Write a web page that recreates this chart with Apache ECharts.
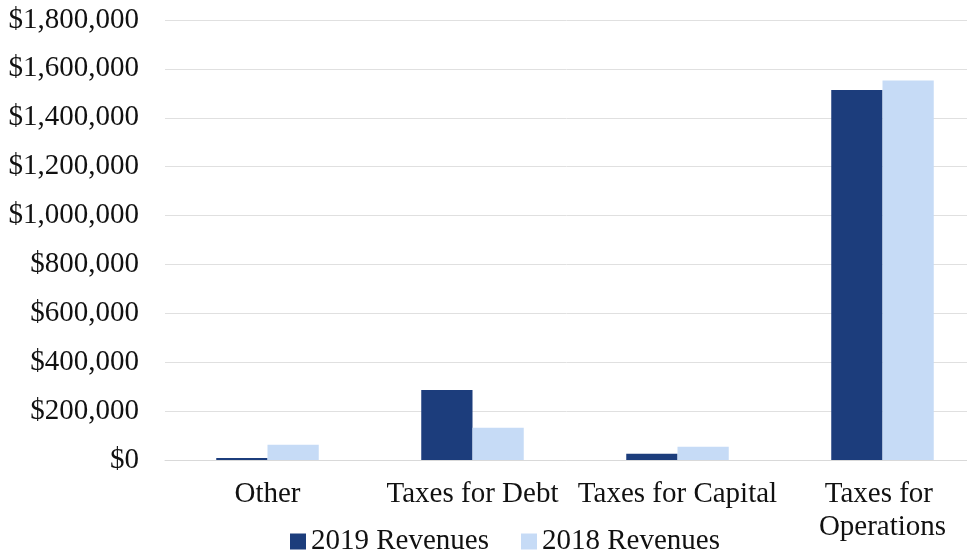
<!DOCTYPE html>
<html>
<head>
<meta charset="utf-8">
<script src="https://cdn.jsdelivr.net/npm/echarts@6/dist/echarts.min.js"></script>
<style>
  html, body { margin: 0; padding: 0; background: #fff; }
  #chart { width: 967px; height: 550px; }
</style>
</head>
<body>
<div id="chart"></div>
<script>
const categories = ['Other', 'Taxes for Debt', 'Taxes for Capital', 'Taxes for Operations']
const revenues2019 = [8000, 286000, 26000, 1514000]
const revenues2018 = [62000, 132000, 54000, 1552000]
const yTicks = [0, 200000, 400000, 600000, 800000, 1000000, 1200000, 1400000, 1600000, 1800000]

const font = 'Liberation Serif, Times New Roman, serif'
const chart = echarts.init(document.getElementById('chart'))

chart.setOption({
  animation: false,
  textStyle: { fontFamily: font },
  legend: {
    left: 285,
    top: 522,
    itemWidth: 16,
    itemHeight: 16,
    itemGap: 32,
    icon: 'rect',
    textStyle: { fontFamily: font, fontSize: 29, color: '#111' },
    data: ['2019 Revenues', '2018 Revenues'],
  },
  // the source image is cropped on the right, so the plot runs past the edge
  grid: { left: 165, top: 20, right: -18, bottom: 90, outerBoundsMode: 'none', containLabel: false },
  xAxis: {
    type: 'category',
    data: categories,
    axisTick: { show: false },
    axisLine: { lineStyle: { color: '#d9d9d9' } },
    axisLabel: {
      interval: 0,
      margin: 18,
      width: 205,
      overflow: 'break',
      lineHeight: 33,
      fontFamily: font,
      fontSize: 29,
      color: '#111',
    },
  },
  yAxis: {
    type: 'value',
    min: yTicks[0],
    max: yTicks[yTicks.length - 1],
    interval: 200000,
    axisLine: { show: false },
    axisTick: { show: false },
    splitLine: { lineStyle: { color: '#e0e0e0' } },
    axisLabel: {
      margin: 26,
      fontFamily: font,
      fontSize: 29,
      color: '#111',
      formatter: (v) => '$' + v.toLocaleString('en-US'),
    },
  },
  series: [
    {
      name: '2019 Revenues',
      type: 'bar',
      barGap: '0%',
      barCategoryGap: '50%',
      itemStyle: { color: '#1c3d7c' },
      data: revenues2019,
    },
    {
      name: '2018 Revenues',
      type: 'bar',
      barGap: '0%',
      barCategoryGap: '50%',
      itemStyle: { color: '#c6dbf6' },
      data: revenues2018,
    },
  ],
})
</script>
</body>
</html>
